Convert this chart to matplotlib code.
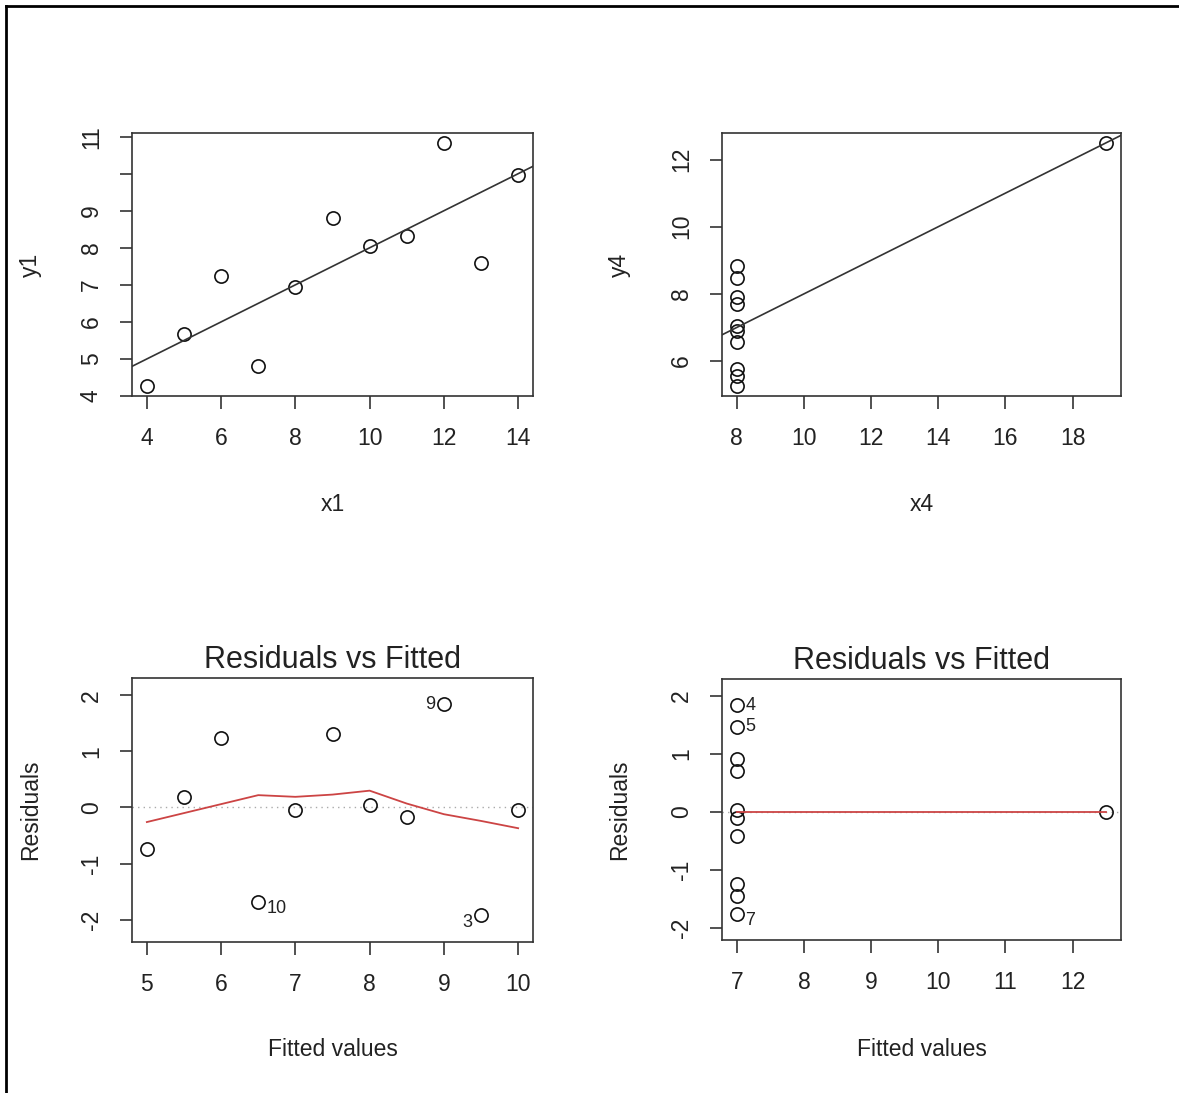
import matplotlib
matplotlib.use('Agg')
import matplotlib.pyplot as plt
import numpy as np

plt.rcParams['font.family'] = ['Liberation Sans', 'DejaVu Sans']
plt.rcParams['axes.unicode_minus'] = False

# Anscombe data, sets 1 and 4
x1 = np.array([10, 8, 13, 9, 11, 14, 6, 4, 12, 7, 5])
y1 = np.array([8.04, 6.95, 7.58, 8.81, 8.33, 9.96, 7.24, 4.26, 10.84, 4.82, 5.68])
x4 = np.array([8, 8, 8, 8, 8, 8, 8, 19, 8, 8, 8])
y4 = np.array([6.58, 5.76, 7.71, 8.84, 8.47, 7.04, 5.25, 12.50, 5.56, 7.91, 6.89])

# lowess smooth
smooth1_x = [5.0, 5.5, 6.0, 6.5, 7.0, 7.5, 8.0, 8.5, 9.0, 9.5, 10.0]
smooth1_y = [-0.26, -0.10, 0.06, 0.22, 0.19, 0.23, 0.30, 0.07, -0.12, -0.24, -0.37]
smooth4_x = [7.0, 12.5]
smooth4_y = [0.0, 0.0]

# ids labelled in the residual plots (1-based, like R)
ids1 = [3, 9, 10]
ids4 = [4, 5, 7]

W, H = 1179, 1093
fig = plt.figure(figsize=(W / 100, H / 100), dpi=100)

# page border like the screenshot (left and top only)
fig.add_artist(plt.Line2D([6 / W, 6 / W], [0, 1 - 6 / H], color='black', lw=2))
fig.add_artist(plt.Line2D([6 / W, 1], [1 - 6 / H, 1 - 6 / H], color='black', lw=2))


def make_ax(l, r, t, b):
    ax = fig.add_axes([l / W, 1 - b / H, (r - l) / W, (b - t) / H])
    for s in ax.spines.values():
        s.set_linewidth(1.2)
        s.set_color('#333333')
    ax.tick_params(direction='out', length=9, width=1.2, color='#333333',
                   labelsize=16.5, labelcolor='#222222')
    ax.tick_params(axis='x', pad=13)
    ax.tick_params(axis='y', pad=12)
    return ax


def rotate_y(ax):
    for lab in ax.get_yticklabels():
        lab.set_rotation(90)
        lab.set_va('center')


def scatter(ax, x, y):
    ax.plot(x, y, 'o', mfc='none', mec='#111111', ms=9.5, mew=1.2, ls='none')


lab_kw = dict(fontsize=16.5, color='#222222', va='center')


def axis_labels(ax, xl, yl, xpos, ypos):
    ax.set_xlabel(xl, **lab_kw)
    ax.set_ylabel(yl, **lab_kw)
    ax.xaxis.set_label_coords(0.5, xpos)
    ax.yaxis.set_label_coords(ypos, 0.5)


# --- top left: y1 ~ x1
ax = make_ax(132, 533, 133, 396)
scatter(ax, x1, y1)
m, b = np.polyfit(x1, y1, 1)
ax.axline((0, b), slope=m, color='#333333', lw=1.2)
ax.set_xlim(3.6, 14.4)
ax.set_ylim(4.0, 11.1)
ax.set_xticks([4, 6, 8, 10, 12, 14])
ax.set_yticks([4, 5, 6, 7, 8, 9, 10, 11])
ax.set_yticklabels(['4', '5', '6', '7', '8', '9', '', '11'])
rotate_y(ax)
axis_labels(ax, 'x1', 'y1', -0.414, -0.254)

# --- top right: y4 ~ x4
ax = make_ax(722, 1121, 133, 396)
scatter(ax, x4, y4)
m4, b4 = np.polyfit(x4, y4, 1)
ax.axline((0, b4), slope=m4, color='#333333', lw=1.2)
ax.set_xlim(7.56, 19.44)
ax.set_ylim(4.96, 12.79)
ax.set_xticks([8, 10, 12, 14, 16, 18])
ax.set_yticks([6, 8, 10, 12])
rotate_y(ax)
axis_labels(ax, 'x4', 'y4', -0.414, -0.256)


def resid_panel(ax, x, y, sx, sy, ids, xlim, ylim, xticks):
    coef = np.polyfit(x, y, 1)
    fit = np.polyval(coef, x)
    res = y - fit
    ax.axhline(0, color='#aaaaaa', lw=1, ls=(0, (1, 3)))
    scatter(ax, fit, res)
    ax.plot(sx, sy, color='#cc4444', lw=1.3)
    mid = (fit.min() + fit.max()) / 2
    for i in ids:
        xi, yi = fit[i - 1], res[i - 1]
        dy = -5 if yi < 0 else 0
        if xi < mid:
            ax.annotate(str(i), (xi, yi), xytext=(6, dy), textcoords='offset points',
                        ha='left', va='center', fontsize=13, color='#222222')
        else:
            ax.annotate(str(i), (xi, yi), xytext=(-6, dy), textcoords='offset points',
                        ha='right', va='center', fontsize=13, color='#222222')
    ax.set_xlim(*xlim)
    ax.set_ylim(*ylim)
    ax.set_xticks(xticks)
    ax.set_yticks([-2, -1, 0, 1, 2])
    rotate_y(ax)
    ax.set_title('Residuals vs Fitted', fontsize=22, color='#222222', pad=7)


# --- bottom left
ax = make_ax(132, 533, 678, 942)
resid_panel(ax, x1, y1, smooth1_x, smooth1_y, ids1,
            (4.8, 10.2), (-2.40, 2.31), [5, 6, 7, 8, 9, 10])
axis_labels(ax, 'Fitted values', 'Residuals', -0.409, -0.254)

# --- bottom right
ax = make_ax(722, 1121, 679, 940)
resid_panel(ax, x4, y4, smooth4_x, smooth4_y, ids4,
            (6.78, 12.72), (-2.205, 2.293), [7, 8, 9, 10, 11, 12])
axis_labels(ax, 'Fitted values', 'Residuals', -0.418, -0.256)

fig.savefig('out.png', dpi=100)
